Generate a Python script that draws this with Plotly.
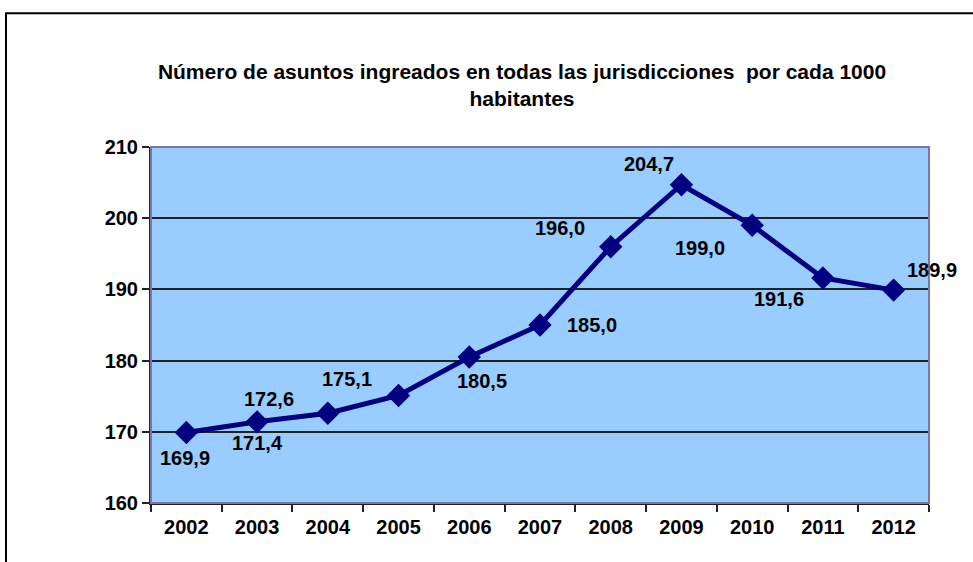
import plotly.graph_objects as go

years = ["2002", "2003", "2004", "2005", "2006", "2007", "2008", "2009", "2010", "2011", "2012"]
values = [169.9, 171.4, 172.6, 175.1, 180.5, 185.0, 196.0, 204.7, 199.0, 191.6, 189.9]
y_ticks = [160, 170, 180, 190, 200, 210]

# pixel offsets of each data label from its marker (Excel labels were moved by hand)
label_dx = [-1, 0, -59, -52, 13, 52, -51, -32, -52, -44, 38]
label_dy = [25, 21, -14, -16, 24, 0, -19, -21, 23, 21, -20]

FONT = "Liberation Sans, Arial, sans-serif"
NAVY = "#000080"

fig = go.Figure()
fig.add_trace(
    go.Scatter(
        x=years,
        y=values,
        mode="lines+markers",
        line=dict(color=NAVY, width=5),
        marker=dict(symbol="diamond", size=18, color=NAVY),
        hoverinfo="skip",
        showlegend=False,
    )
)

# category axis: annotations placed by category index
for i, (value, dx, dy) in enumerate(zip(values, label_dx, label_dy)):
    fig.add_annotation(
        x=i,
        y=value,
        text=f"{value:.1f}".replace(".", ","),
        showarrow=False,
        xshift=dx,
        yshift=-dy,
        font=dict(family=FONT, size=20, color="black", weight="bold"),
    )

# outer chart border (right and bottom edges fall outside the picture)
fig.add_shape(
    type="rect", xref="paper", yref="paper",
    x0=-0.1864, x1=1.2, y0=-0.3, y1=1.376,
    line=dict(color="black", width=2), layer="below",
)
# plot area border
fig.add_shape(
    type="rect", xref="paper", yref="paper",
    x0=0, x1=1, y0=0, y1=1,
    line=dict(color="#7878a8", width=2),
)

fig.update_layout(
    width=973,
    height=562,
    margin=dict(l=151, r=44, t=147, b=59, autoexpand=False),
    paper_bgcolor="white",
    plot_bgcolor="#99ccff",
    font=dict(family=FONT, color="black"),
    title=dict(
        text="Número de asuntos ingreados en todas las jurisdicciones&nbsp; por cada 1000<br>habitantes",
        x=522 / 973,
        xanchor="center",
        y=1 - 79 / 562,
        yanchor="top",
        font=dict(family=FONT, size=21, color="black", weight="bold"),
    ),
    xaxis=dict(
        type="category",
        range=[-0.5, len(years) - 0.5],
        tickson="boundaries",
        tickangle=0,
        ticks="outside",
        ticklen=7,
        tickwidth=2,
        tickcolor="#222",
        ticklabelstandoff=5,
        showline=True,
        linecolor="#222",
        linewidth=2,
        showgrid=False,
        automargin=False,
        tickfont=dict(family=FONT, size=20, color="black", weight="bold"),
        fixedrange=True,
    ),
    yaxis=dict(
        range=[160, 210],
        tickvals=y_ticks,
        ticks="outside",
        ticklen=7,
        tickwidth=2,
        tickcolor="#222",
        showline=True,
        linecolor="#222",
        linewidth=2,
        showgrid=True,
        gridcolor="#222",
        gridwidth=1.5,
        zeroline=False,
        automargin=False,
        tickfont=dict(family=FONT, size=20, color="black", weight="bold"),
        fixedrange=True,
    ),
)

fig.write_html(
    "out.html",
    config={"displayModeBar": False},
    post_script="document.body.style.margin='0';",
)
